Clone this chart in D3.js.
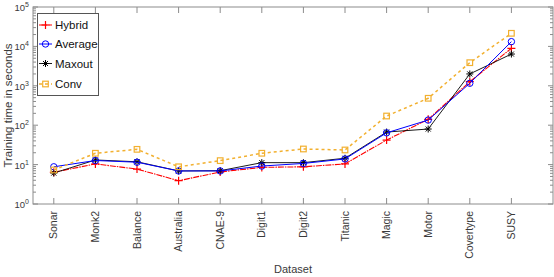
<!DOCTYPE html>
<html><head><meta charset="utf-8">
<script src="https://cdn.jsdelivr.net/npm/d3@7"></script>
<style>body{margin:0;background:#fff}svg{display:block;font-family:"Liberation Sans",Arial,sans-serif}</style>
</head><body><svg id="c" width="554" height="277"></svg>
<script>
const categories = ["Sonar","Monk2","Balance","Australia","CNAE-9","Digit1","Digit2","Titanic","Magic","Motor","Covertype","SUSY"];
const hybrid  = [6.4, 10.4, 7.7, 3.9, 6.5, 8.5, 8.8, 10.4, 42, 141, 1270, 8950];
const average = [8.8, 12.7, 11.5, 6.9, 6.9, 9.2, 10.7, 13.9, 64, 135, 1160, 13200];
const maxout  = [6.1, 13.1, 11.8, 6.9, 7.0, 11.2, 11.2, 14.5, 67, 80, 2000, 6400];
const conv    = [7.3, 19.4, 24.4, 8.8, 12.6, 19.4, 24.9, 23.5, 171, 482, 3860, 21500];
const yTickExps = [0,1,2,3,4,5];
const seriesNames = ["Hybrid","Average","Maxout","Conv"];
const drawOrder = ["Hybrid","Maxout","Average","Conv"];

const svg = d3.select("#c");
const L=33, R=553, T=7, B=204;
const x = d3.scaleLinear().domain([0.5, 13]).range([L, R]);
const y = d3.scaleLog().domain([1, 1e5]).range([B, T]);
const frameColor = "#8c8c8c", textColor = "#3a3a3a";

const g = svg.append("g");
yTickExps.forEach(e => {
  const v = Math.pow(10, e);
  const yy = y(v);
  g.append("line").attr("x1",L).attr("x2",L+5).attr("y1",yy).attr("y2",yy).attr("stroke",frameColor);
  g.append("line").attr("x1",R).attr("x2",R-5).attr("y1",yy).attr("y2",yy).attr("stroke",frameColor);
  const t = g.append("text").attr("x",L-4).attr("y",yy+4).attr("text-anchor","end")
    .attr("font-size",9.5).attr("fill",textColor);
  t.append("tspan").text("10");
  t.append("tspan").attr("dy",-4).attr("font-size",7).text(e);
  if (e < 5) for (let m=2;m<=9;m++){
    const ym = y(m*v);
    g.append("line").attr("x1",L).attr("x2",L+3).attr("y1",ym).attr("y2",ym).attr("stroke",frameColor);
    g.append("line").attr("x1",R).attr("x2",R-3).attr("y1",ym).attr("y2",ym).attr("stroke",frameColor);
  }
});
categories.forEach((c,i) => {
  const xx = x(i+1);
  g.append("line").attr("x1",xx).attr("x2",xx).attr("y1",B).attr("y2",B-6).attr("stroke",frameColor);
  g.append("line").attr("x1",xx).attr("x2",xx).attr("y1",T).attr("y2",T+6).attr("stroke",frameColor);
  g.append("text").attr("transform",`translate(${xx+3.5},${B+7}) rotate(-90)`)
    .attr("text-anchor","end").attr("font-size",10.5).attr("fill",textColor).text(c);
});
svg.append("rect").attr("x",L).attr("y",T).attr("width",R-L).attr("height",B-T)
  .attr("fill","none").attr("stroke",frameColor).attr("stroke-width",1);

svg.append("text").attr("transform",`translate(12,${(T+B)/2}) rotate(-90)`).attr("text-anchor","middle")
  .attr("font-size",11.5).attr("fill",textColor).text("Training time in seconds");
svg.append("text").attr("x",(L+R)/2).attr("y",273).attr("text-anchor","middle")
  .attr("font-size",11).attr("fill",textColor).text("Dataset");

const styles = {
  Hybrid:{data:hybrid,color:"#ff0000",dash:"6,1,1.5,1",marker:"plus",w:1.1},
  Average:{data:average,color:"#0000ff",dash:null,marker:"circle",w:1},
  Maxout:{data:maxout,color:"#000000",dash:null,marker:"star",w:0.9},
  Conv:{data:conv,color:"#f2b02f",dash:"3,3",marker:"square",w:1.5}
};
function drawMarker(sel, type, cx, cy, color){
  if (type==="plus"){
    sel.append("path").attr("d",`M${cx-4},${cy}H${cx+4}M${cx},${cy-4}V${cy+4}`).attr("stroke",color).attr("stroke-width",1.2).attr("fill","none");
  } else if (type==="circle"){
    sel.append("circle").attr("cx",cx).attr("cy",cy).attr("r",3.2).attr("stroke",color).attr("fill","none").attr("stroke-width",1);
  } else if (type==="star"){
    const a=3.5, b=2.5;
    sel.append("path").attr("d",`M${cx-a},${cy}H${cx+a}M${cx},${cy-a}V${cy+a}M${cx-b},${cy-b}L${cx+b},${cy+b}M${cx-b},${cy+b}L${cx+b},${cy-b}`)
      .attr("stroke",color).attr("stroke-width",1).attr("fill","none");
  } else {
    sel.append("rect").attr("x",cx-2.8).attr("y",cy-2.8).attr("width",5.6).attr("height",5.6).attr("stroke",color).attr("fill","none").attr("stroke-width",1.2);
  }
}
const line = d3.line().x((d,i)=>x(i+1)).y(d=>y(d));
drawOrder.forEach(n => {
  const s = styles[n];
  const gs = svg.append("g");
  gs.append("path").attr("d",line(s.data)).attr("fill","none").attr("stroke",s.color)
    .attr("stroke-width",s.w).attr("stroke-dasharray",s.dash);
  s.data.forEach((d,i)=>drawMarker(gs,s.marker,x(i+1),y(d),s.color));
});

const lg = svg.append("g");
lg.append("rect").attr("x",37.5).attr("y",13.5).attr("width",61).attr("height",82).attr("fill","#fff").attr("stroke","#555");
const ly = [25,44,63.5,84];
seriesNames.forEach((n,i)=>{
  const s = styles[n];
  lg.append("line").attr("x1",39).attr("x2",52).attr("y1",ly[i]).attr("y2",ly[i]).attr("stroke",s.color)
    .attr("stroke-width",s.w).attr("stroke-dasharray",s.dash);
  drawMarker(lg,s.marker,45.5,ly[i],s.color);
  lg.append("text").attr("x",55).attr("y",ly[i]+4.2).attr("font-size",11.5).attr("fill","#111").text(n);
});
</script></body></html>
